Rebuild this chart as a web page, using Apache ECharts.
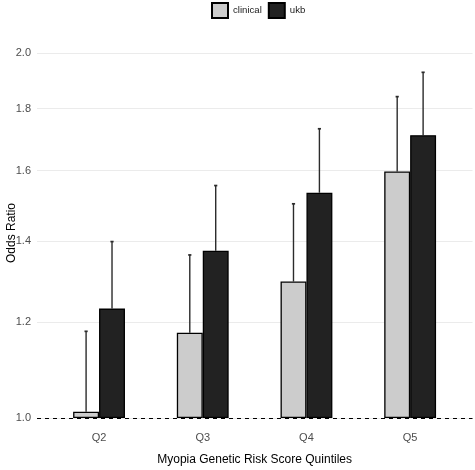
<!DOCTYPE html>
<html>
<head>
<meta charset="utf-8">
<script src="https://cdn.jsdelivr.net/npm/echarts@6/dist/echarts.min.js"></script>
<style>html,body{margin:0;padding:0;background:#fff}#c{width:475px;height:470px}</style>
</head>
<body>
<div id="c"></div>
<script>
const categories = ['Q2', 'Q3', 'Q4', 'Q5'];
const clinicalOR = [1.012, 1.176, 1.296, 1.597];
const clinicalUpper = [1.179, 1.363, 1.502, 1.841];
const ukbOR = [1.231, 1.374, 1.534, 1.711];
const ukbUpper = [1.398, 1.555, 1.732, 1.928];
const yTicks = [1.0, 1.2, 1.4, 1.6, 1.8, 2.0];
const refLine = 1.0;

const FONT = 'Liberation Sans';
const Y_MIN = 0.985, Y_MAX = 2.05;
const TOP = 40, HEIGHT = 386;

function errRender(offsetFrac) {
  return function (params, api) {
    const i = api.value(0);
    const lo = api.coord([i, api.value(1)]);
    const hi = api.coord([i, api.value(2)]);
    const band = api.size([1, 0])[0];
    const x = lo[0] + band * offsetFrac;
    const cap = 1.6;
    return {
      type: 'group',
      children: [
        { type: 'line', shape: { x1: x, y1: lo[1], x2: x, y2: hi[1] }, style: { stroke: '#2b2b2b', lineWidth: 1.4 } },
        { type: 'line', shape: { x1: x - cap, y1: hi[1], x2: x + cap, y2: hi[1] }, style: { stroke: '#2b2b2b', lineWidth: 1.7 } }
      ]
    };
  };
}

const chart = echarts.init(document.getElementById('c'), null, { renderer: 'canvas' });
chart.setOption({
  animation: false,
  textStyle: { fontFamily: FONT },
  legend: {
    top: 2,
    left: 211,
    padding: 0,
    icon: 'rect',
    itemWidth: 16,
    itemHeight: 15,
    itemGap: 6,
    data: ['clinical', 'ukb'],
    textStyle: { fontSize: 9.6, color: '#1a1a1a', fontFamily: FONT }
  },
  grid: [
    { left: 47.2, width: 414.8, top: TOP, height: HEIGHT, outerBoundsMode: 'none', containLabel: false },
    { left: 37, width: 435.5, top: TOP, height: HEIGHT, outerBoundsMode: 'none', containLabel: false }
  ],
  xAxis: [
    {
      type: 'category', gridIndex: 0, data: categories,
      axisLine: { show: false }, axisTick: { show: false }, splitLine: { show: false },
      axisLabel: { color: '#4d4d4d', fontSize: 11, margin: 6, fontFamily: FONT },
      name: 'Myopia Genetic Risk Score Quintiles', nameLocation: 'middle', nameGap: 28,
      nameMoveOverlap: false,
      nameTextStyle: { color: '#000', fontSize: 12, fontFamily: FONT }
    },
    { type: 'value', gridIndex: 1, min: 0, max: 1, show: false }
  ],
  yAxis: [
    {
      type: 'log', gridIndex: 0, min: Y_MIN, max: Y_MAX,
      axisLine: { show: false }, axisTick: { show: false }, axisLabel: { show: false }, splitLine: { show: false }
    },
    {
      type: 'log', gridIndex: 1, min: Y_MIN, max: Y_MAX,
      axisLine: { show: false },
      axisTick: { show: false, customValues: yTicks },
      axisLabel: { customValues: yTicks, color: '#4d4d4d', fontSize: 11, margin: 6, fontFamily: FONT,
        formatter: v => Number(v).toFixed(1) },
      splitLine: { show: true, lineStyle: { color: '#ebebeb', width: 1.1 } },
      minorSplitLine: { show: false },
      name: 'Odds Ratio', nameLocation: 'middle', nameGap: 19,
      nameMoveOverlap: false,
      nameTextStyle: { color: '#000', fontSize: 12, fontFamily: FONT }
    }
  ],
  series: [
    {
      name: 'clinical', type: 'bar', xAxisIndex: 0, yAxisIndex: 0,
      data: clinicalOR, barWidth: '25%', barGap: '0%',
      itemStyle: { color: '#cccccc', borderColor: '#000', borderWidth: 1.3 }
    },
    {
      name: 'ukb', type: 'bar', xAxisIndex: 0, yAxisIndex: 0,
      data: ukbOR, barWidth: '25%', barGap: '0%',
      itemStyle: { color: '#222222', borderColor: '#000', borderWidth: 1.3 }
    },
    {
      type: 'custom', xAxisIndex: 0, yAxisIndex: 0, z: 1,
      renderItem: errRender(-0.125),
      data: categories.map((c, i) => [i, clinicalOR[i], clinicalUpper[i]])
    },
    {
      type: 'custom', xAxisIndex: 0, yAxisIndex: 0, z: 1,
      renderItem: errRender(0.125),
      data: categories.map((c, i) => [i, ukbOR[i], ukbUpper[i]])
    },
    {
      type: 'line', xAxisIndex: 1, yAxisIndex: 1, data: [], z: 5,
      markLine: {
        silent: true, symbol: ['none', 'none'],
        label: { show: false },
        lineStyle: { type: [4, 4], color: '#000', width: 1.2 },
        data: [{ yAxis: refLine }]
      }
    }
  ]
});
</script>
</body>
</html>
